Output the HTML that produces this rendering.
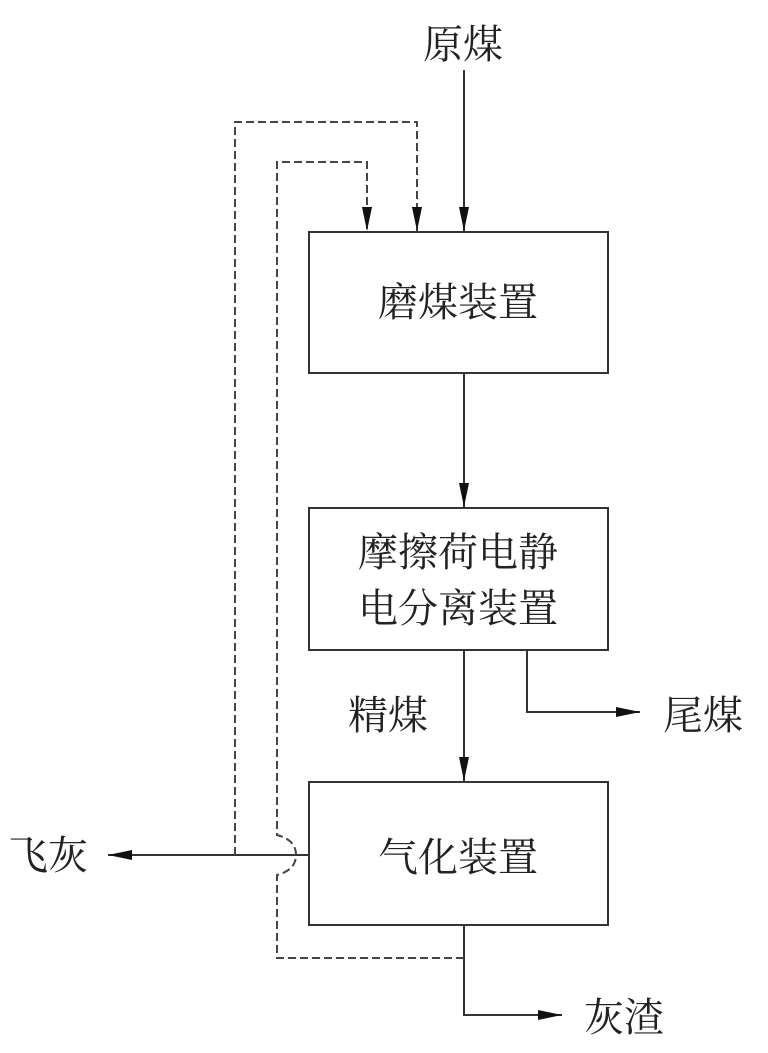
<!DOCTYPE html>
<html><head><meta charset="utf-8"><style>
body{margin:0;background:#fff}
text{font-family:"Liberation Serif","Noto Serif CJK SC",serif;fill:#222}
</style></head><body>
<svg width="768" height="1048" viewBox="0 0 768 1048" xmlns="http://www.w3.org/2000/svg">
<defs><marker id="b" markerWidth="24" markerHeight="12" refX="24" refY="6" orient="auto" markerUnits="userSpaceOnUse"><path d="M0,1 L24,6 L0,11 Z" fill="#111"/></marker></defs>
<g stroke="#333" stroke-width="2" fill="none">
<rect x="309" y="232" width="299" height="141"/>
<rect x="309" y="508" width="299" height="142"/>
<rect x="309" y="782" width="299" height="143"/>
<line x1="464" y1="70" x2="464" y2="231" marker-end="url(#b)"/>
<line x1="464" y1="373" x2="464" y2="507" marker-end="url(#b)"/>
<line x1="464" y1="650" x2="464" y2="781" marker-end="url(#b)"/>
<polyline points="527,650 527,712 640,712" marker-end="url(#b)"/>
<line x1="309" y1="855" x2="108" y2="855" marker-end="url(#b)"/>
<polyline points="464,925 464,1015 562,1015" marker-end="url(#b)"/>
</g>
<g stroke="#444" stroke-width="2" fill="none" stroke-dasharray="8,4">
<polyline points="235,855 235,122 417,122 417,231" marker-end="url(#b)"/>
<path d="M464,958 L277,958 L277,875 Q296,870 296,855 Q296,840 277,835 L277,162 L367,162 L367,231" marker-end="url(#b)"/>
</g>
<text x="463" y="58" font-size="40" text-anchor="middle">原煤</text>
<text x="458" y="316" font-size="40" text-anchor="middle">磨煤装置</text>
<text x="458" y="566" font-size="40" text-anchor="middle">摩擦荷电静</text>
<text x="458" y="622" font-size="40" text-anchor="middle">电分离装置</text>
<text x="388" y="729" font-size="40" text-anchor="middle">精煤</text>
<text x="703" y="729" font-size="40" text-anchor="middle">尾煤</text>
<text x="458" y="871" font-size="40" text-anchor="middle">气化装置</text>
<text x="48" y="869" font-size="40" text-anchor="middle">飞灰</text>
<text x="624" y="1031" font-size="40" text-anchor="middle">灰渣</text>
</svg>
</body></html>
